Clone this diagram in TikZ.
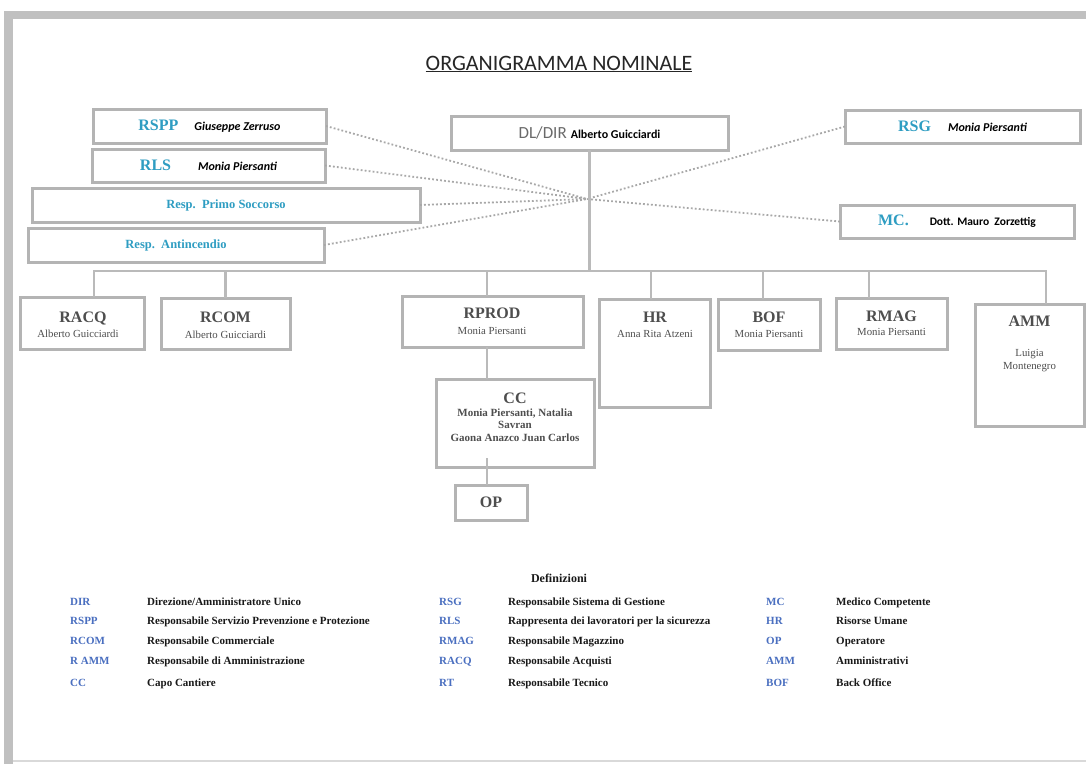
\documentclass[tikz,border=0pt]{standalone}
\usepackage{fontspec}
\setmainfont{Liberation Serif}
\newfontfamily\calib{Carlito}
\usetikzlibrary{calc}
\definecolor{boxgray}{HTML}{B4B4B4}
\definecolor{linegray}{HTML}{BABABA}
\definecolor{dotgray}{HTML}{A8A8A8}
\definecolor{tealx}{HTML}{2E9DC2}
\definecolor{txtgray}{HTML}{4E4E4E}
\definecolor{legblue}{HTML}{4A6FC0}
\definecolor{framegray}{HTML}{C0C0C0}
\definecolor{dirgray}{HTML}{6A6A6A}
\tikzset{
  box/.style={draw=boxgray, line width=3pt, fill=white, inner sep=0pt, outer sep=0pt},
  conn/.style={draw=linegray, line width=2.5pt},
  dots/.style={draw=dotgray, line width=1.8pt, dash pattern=on 1.8pt off 2.2pt},
  ttl/.style={font=\fontsize{16}{16}\selectfont\bfseries, text=txtgray, inner sep=0pt, anchor=base},
  nm/.style={font=\fontsize{10.8}{11}\selectfont, text=txtgray, inner sep=0pt, anchor=base},
  ccl/.style={font=\fontsize{11}{11}\selectfont\bfseries, text=txtgray, inner sep=0pt, anchor=base},
  ab/.style={font=\fontsize{11}{11}\selectfont\bfseries, text=legblue, inner sep=0pt, anchor=base west},
  ds/.style={font=\fontsize{11}{11}\selectfont\bfseries, text=black!90, inner sep=0pt, anchor=base west},
}
\begin{document}
\begin{tikzpicture}[x=1pt,y=-1pt]
\useasboundingbox (0,0) rectangle (1086,764);
\fill[white] (0,0) rectangle (1086,764);
% page frame
\fill[framegray] (4,11) rectangle (1086,19);
\fill[framegray] (4,11) rectangle (13,764);
\draw[framegray!60, line width=1.5pt] (13,761) -- (1086,761);

% title
\node[inner sep=0pt, anchor=base, text=black!85, font=\calib\fontsize{22}{22}\selectfont] (title) at (559,70) {\underline{ORGANIGRAMMA NOMINALE}};

% top boxes
\node[box, minimum width=233pt, minimum height=34pt] (rspp) at (209.5,126)
  {{\color{tealx}\fontsize{16}{16}\selectfont\bfseries RSPP}\hspace{16pt}{\calib\fontsize{12}{12}\selectfont\bfseries\itshape Giuseppe Zerruso}};
\node[box, minimum width=233pt, minimum height=33pt] (rls) at (208.5,165.5)
  {{\color{tealx}\fontsize{16}{16}\selectfont\bfseries RLS}\hspace{27pt}{\calib\fontsize{12}{12}\selectfont\bfseries\itshape Monia Piersanti}};
\node[box, minimum width=388pt, minimum height=34pt] (primo) at (226,205)
  {{\color{tealx}\fontsize{12.5}{12.5}\selectfont\bfseries Resp.\ \ Primo Soccorso}};
\node[box, minimum width=296pt, minimum height=34pt] (antinc) at (176,245)
  {{\color{tealx}\fontsize{12.5}{12.5}\selectfont\bfseries Resp.\ \ Antincendio}};
\node[box, minimum width=277pt, minimum height=34pt] (dir) at (589.5,133)
  {{\calib\color{dirgray}\fontsize{17}{17}\selectfont DL/DIR}\hspace{4pt}{\calib\fontsize{12}{12}\selectfont\bfseries Alberto Guicciardi}};
\node[box, minimum width=235pt, minimum height=33pt] (rsg) at (962.5,126.5)
  {{\color{tealx}\fontsize{16}{16}\selectfont\bfseries RSG}\hspace{17pt}{\calib\fontsize{12}{12}\selectfont\bfseries\itshape Monia Piersanti}};
\node[box, minimum width=234pt, minimum height=33pt] (mc) at (957,221.5)
  {{\color{tealx}\fontsize{16}{16}\selectfont\bfseries MC.}\hspace{21pt}{\calib\fontsize{11.5}{11.5}\selectfont\bfseries Dott. Mauro\ \ Zorzettig}};

% second row boxes
\node[box, minimum width=124pt, minimum height=52pt] (racq) at (82,323) {};
\node[box, minimum width=129pt, minimum height=51pt] (rcom) at (225.5,323.5) {};
\node[box, minimum width=181pt, minimum height=51pt] (rprod) at (492.5,321.5) {};
\node[box, minimum width=111pt, minimum height=108pt] (hr) at (654.5,353) {};
\node[box, minimum width=102pt, minimum height=51pt] (bof) at (769,324.5) {};
\node[box, minimum width=111pt, minimum height=51pt] (rmag) at (891.5,323.5) {};
\node[box, minimum width=109pt, minimum height=122pt] (amm) at (1029.5,365) {};
\node[box, minimum width=158pt, minimum height=88pt] (cc) at (515,423) {};
\node[box, minimum width=72pt, minimum height=35pt] (op) at (491,502.5) {};

% texts of second row
\node[ttl] (racq-t) at (83,322) {RACQ};
\node[nm] (racq-n) at (78,337) {Alberto Guicciardi};
\node[ttl] (rcom-t) at (225.5,322) {RCOM};
\node[nm] (rcom-n) at (225.5,338) {Alberto Guicciardi};
\node[ttl] (rprod-t) at (492,318) {RPROD};
\node[nm] (rprod-n) at (492,334) {Monia Piersanti};
\node[ttl] (hr-t) at (655,322) {HR};
\node[nm] (hr-n) at (655,337) {Anna Rita Atzeni};
\node[ttl] (bof-t) at (769,322) {BOF};
\node[nm] (bof-n) at (769,337) {Monia Piersanti};
\node[ttl] (rmag-t) at (891.5,321) {RMAG};
\node[nm] (rmag-n) at (891.5,335) {Monia Piersanti};
\node[ttl] (amm-t) at (1029.5,326) {AMM};
\node[nm] (amm-n1) at (1029.5,356) {Luigia};
\node[nm] (amm-n2) at (1029.5,369) {Montenegro};
\node[ttl] (cc-t) at (515,403) {CC};
\node[ccl] (cc-n1) at (515,416) {Monia Piersanti, Natalia};
\node[ccl] (cc-n2) at (515,428.5) {Savran};
\node[ccl] (cc-n3) at (515,441) {Gaona Anazco Juan Carlos};
\node[ttl] (op-t) at (491,507.5) {OP};

% dotted links
\coordinate (hub) at (587,199);
\draw[dots] (rspp.east) -- (hub);
\draw[dots] (rls.east) -- (hub);
\draw[dots] (primo.east) -- (hub);
\draw[dots] (antinc.east) -- (hub);
\draw[dots] (rsg.west) -- (hub);
\draw[dots] (mc.west) -- (hub);

% solid tree
\coordinate (bus) at (0,271);
\draw[conn] (dir.south) -- (dir.south |- bus);
\draw[conn] ([xshift=12pt]racq.north) -- ([xshift=12pt]racq.north |- bus) -- ([xshift=16.5pt]amm.north |- bus) -- ([xshift=16.5pt]amm.north);
\draw[conn] (rcom.north) -- (rcom.north |- bus);
\draw[conn] ([xshift=-5.5pt]rprod.north) -- ([xshift=-5.5pt]rprod.north |- bus);
\draw[conn] ([xshift=-3.5pt]hr.north) -- ([xshift=-3.5pt]hr.north |- bus);
\draw[conn] ([xshift=-6pt]bof.north) -- ([xshift=-6pt]bof.north |- bus);
\draw[conn] ([xshift=-22.5pt]rmag.north) -- ([xshift=-22.5pt]rmag.north |- bus);
\draw[conn] ([xshift=-5.5pt]rprod.south) -- ([xshift=-5.5pt]rprod.south |- cc.north);
\draw[conn] ([xshift=-4pt]op.north) -- ($(op.north)+(-4,-27)$);

% legend
\node[inner sep=0pt, anchor=base, font=\fontsize{12}{12}\selectfont\bfseries, text=black!90] (def) at (559,582) {Definizioni};
\node[ab] (l1a) at (70,605) {DIR};      \node[ds] (l1d) at (147,605) {Direzione/Amministratore Unico};
\node[ab] (l2a) at (70,624) {RSPP};     \node[ds] (l2d) at (147,624) {Responsabile Servizio Prevenzione e Protezione};
\node[ab] (l3a) at (70,644) {RCOM};     \node[ds] (l3d) at (147,644) {Responsabile Commerciale};
\node[ab] (l4a) at (70,664) {R AMM};    \node[ds] (l4d) at (147,664) {Responsabile di Amministrazione};
\node[ab] (l5a) at (70,686) {CC};       \node[ds] (l5d) at (147,686) {Capo Cantiere};
\node[ab] (m1a) at (439,605) {RSG};     \node[ds] (m1d) at (508,605) {Responsabile Sistema di Gestione};
\node[ab] (m2a) at (439,624) {RLS};     \node[ds] (m2d) at (508,624) {Rappresenta dei lavoratori per la sicurezza};
\node[ab] (m3a) at (439,644) {RMAG};    \node[ds] (m3d) at (508,644) {Responsabile Magazzino};
\node[ab] (m4a) at (439,664) {RACQ};    \node[ds] (m4d) at (508,664) {Responsabile Acquisti};
\node[ab] (m5a) at (439,686) {RT};      \node[ds] (m5d) at (508,686) {Responsabile Tecnico};
\node[ab] (r1a) at (766,605) {MC};      \node[ds] (r1d) at (836,605) {Medico Competente};
\node[ab] (r2a) at (766,624) {HR};      \node[ds] (r2d) at (836,624) {Risorse Umane};
\node[ab] (r3a) at (766,644) {OP};      \node[ds] (r3d) at (836,644) {Operatore};
\node[ab] (r4a) at (766,664) {AMM};     \node[ds] (r4d) at (836,664) {Amministrativi};
\node[ab] (r5a) at (766,686) {BOF};     \node[ds] (r5d) at (836,686) {Back Office};
\end{tikzpicture}
\end{document}
